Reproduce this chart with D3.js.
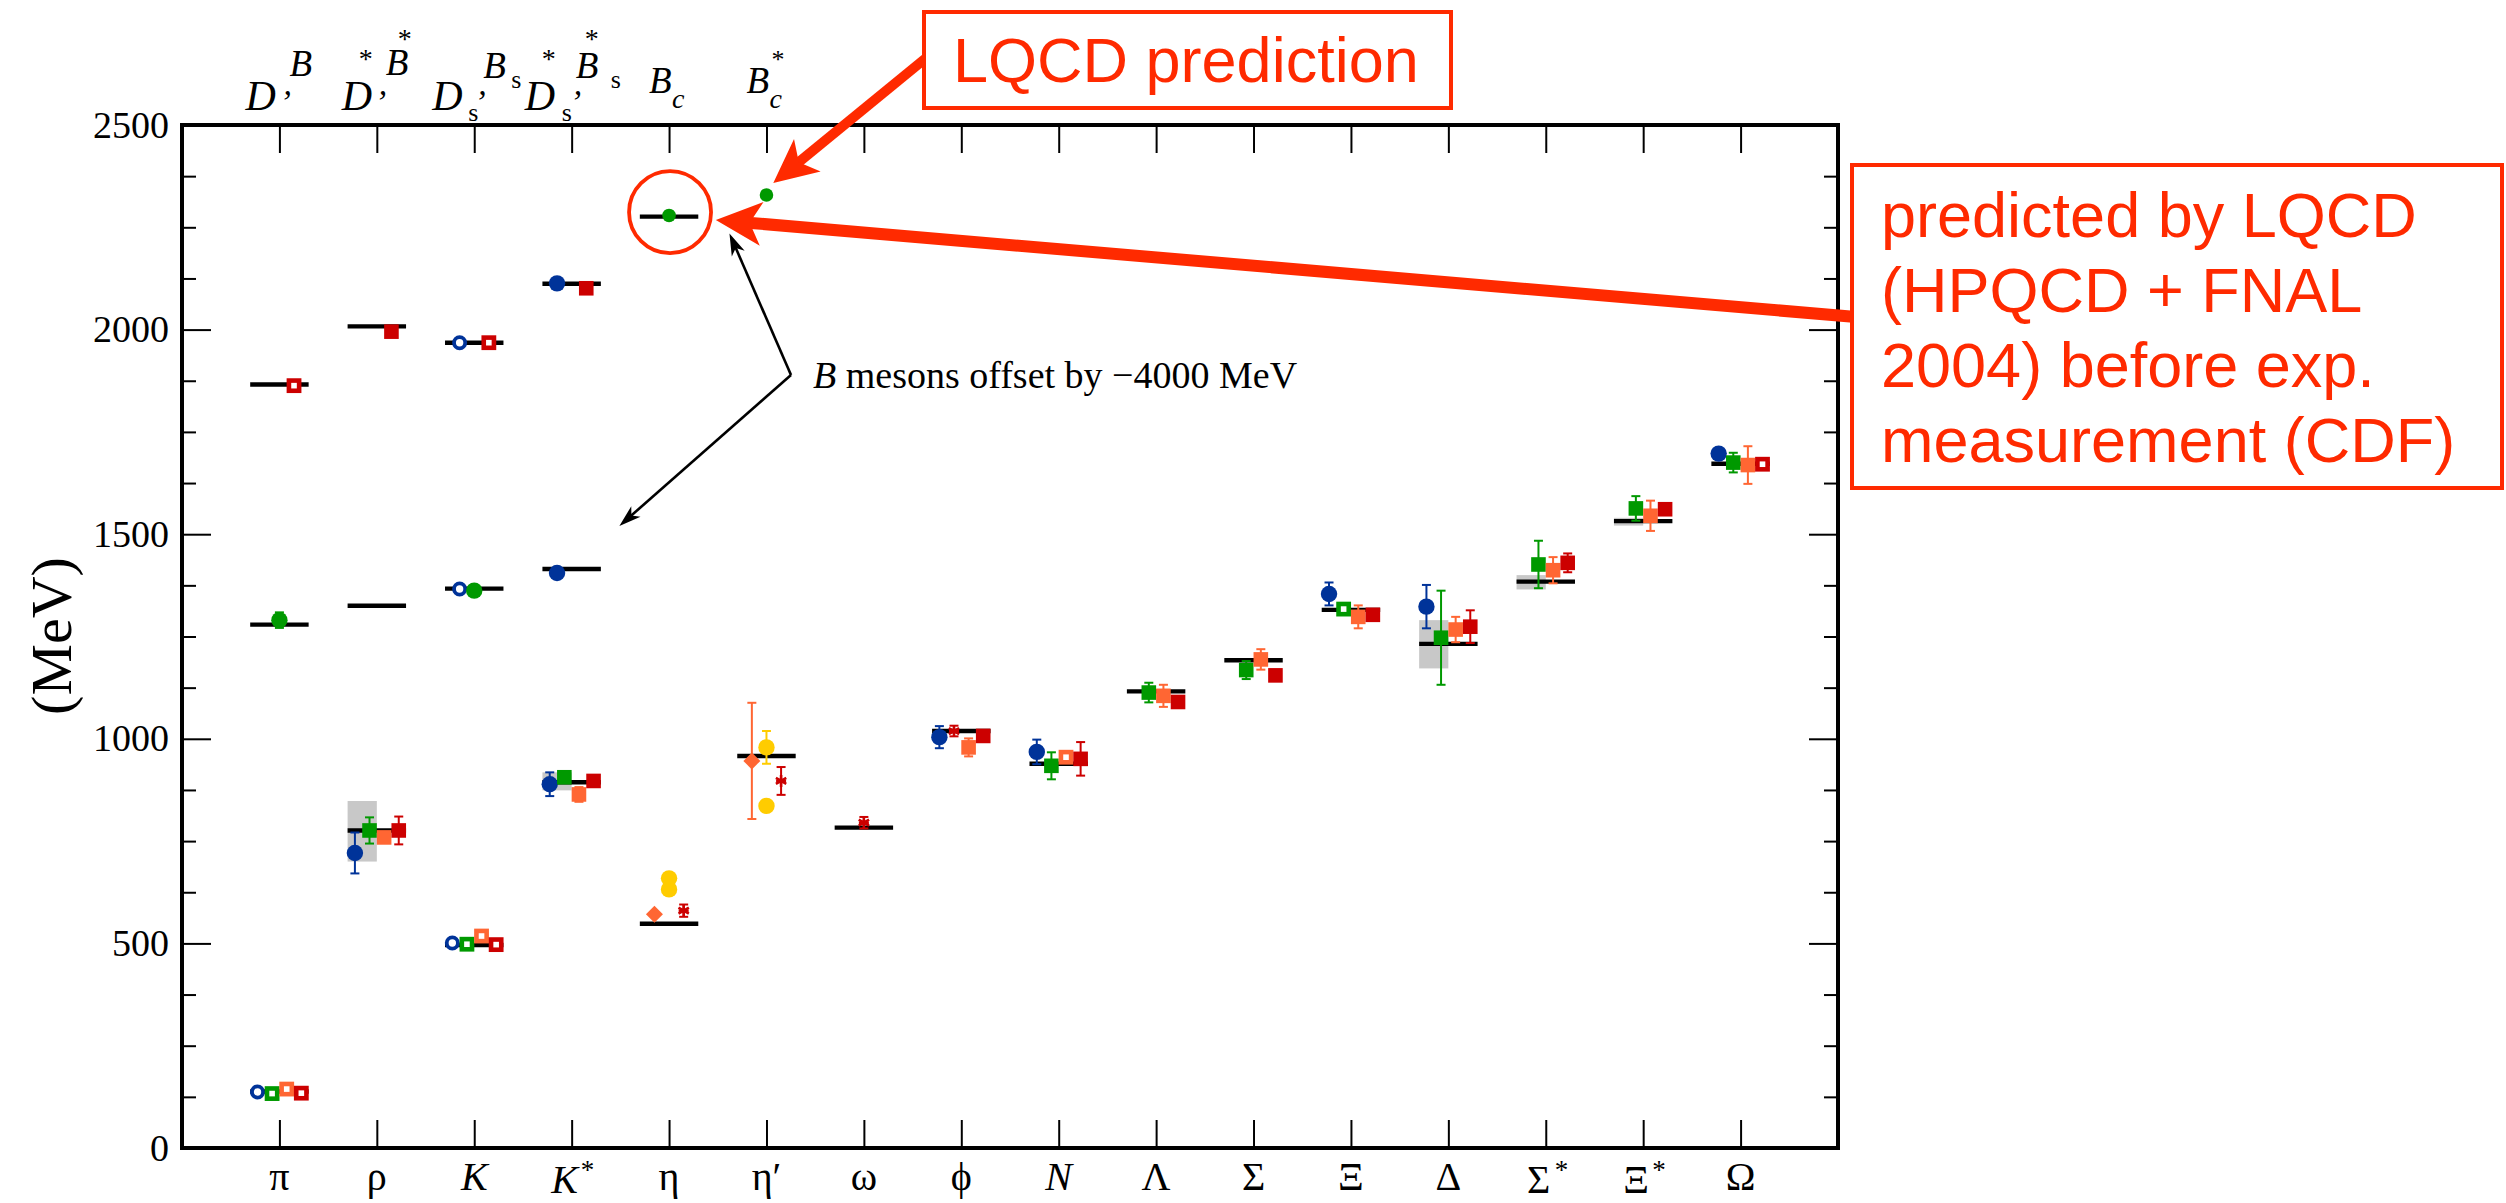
<!DOCTYPE html>
<html>
<head>
<meta charset="utf-8">
<script src="https://cdn.jsdelivr.net/npm/d3@7"></script>
<style>
  body { margin: 0; background: #fff; }
  svg { display: block; }
</style>
</head>
<body>
<div id="chart"></div>
<script>
// ---- data ----------------------------------------------------------------
var categories = ["π", "ρ", "K", "K*", "η", "η′", "ω", "ϕ", "N", "Λ", "Σ", "Ξ", "Δ", "Σ*", "Ξ*", "Ω"];
var italicLabels = ["K", "K*", "N"];
var expMass = [138, 776, 496, 894, 548, 958, 783, 1019, 939, 1116, 1192, 1315, 1232, 1384, 1532, 1672];
// experimental widths (grey bands): [category, low, high]
var widthBands = [["ρ", 700, 848], ["K*", 874, 918], ["Δ", 1172, 1290], ["Σ*", 1365, 1400], ["Ξ*", 1521, 1540]];
var yMajorTicks = [0, 500, 1000, 1500, 2000, 2500];

// light hadrons: [category, mass, error]
var blueFilled = [["ρ", 721, 50], ["K*", 889, 29], ["ϕ", 1004, 27], ["N", 968, 30], ["Ξ", 1354, 28], ["Δ", 1323, 53], ["Ω", 1697, 8]];
var blueOpen = [["π", 137, 0], ["K", 501, 0]];
var greenFilled = [["ρ", 776, 32], ["K*", 906, 0], ["N", 934, 33], ["Λ", 1113, 24], ["Σ", 1168, 22], ["Δ", 1247, 115], ["Σ*", 1426, 58], ["Ξ*", 1563, 30], ["Ω", 1675, 24]];
var greenOpen = [["π", 133, 0], ["K", 498, 0], ["Ξ", 1317, 0]];
var orangeFilled = [["ρ", 759, 10], ["K*", 864, 18], ["ϕ", 979, 22], ["Λ", 1105, 27], ["Σ", 1194, 25], ["Ξ", 1298, 28], ["Δ", 1267, 31], ["Σ*", 1412, 32], ["Ξ*", 1545, 37], ["Ω", 1669, 46]];
var orangeOpen = [["π", 144, 0], ["K", 518, 0], ["N", 955, 8]];
var redFilled = [["ρ", 776, 34], ["K*", 897, 0], ["ϕ", 1007, 0], ["N", 951, 41], ["Λ", 1090, 6], ["Σ", 1155, 5], ["Ξ", 1303, 6], ["Δ", 1274, 40], ["Σ*", 1430, 23], ["Ξ*", 1561, 0]];
var redOpen = [["π", 134, 0], ["K", 497, 0], ["Ω", 1671, 0]];
var redStars = [["η", 580, 15], ["η′", 897, 34], ["ω", 795, 14], ["ϕ", 1019, 13]];
var orangeDiamonds = [["η", 571, 0], ["η′", 946, 142]];
var yellowCircles = [["η", 659, 0], ["η", 632, 0], ["η′", 979, 40], ["η′", 836, 0]];

// heavy mesons (columns 0..5 of the top axis), B mesons shifted by -4000 MeV
var heavyLabels = ["D,B", "D*,B*", "Ds,Bs", "Ds*,Bs*", "Bc", "Bc*"];
var dExpMass = [1866, 2008, 1968, 2112, 2276];
var bExpMass = [1279, 1325, 1367, 1415];
// [column, mass, error]
var heavyBlueFilled = [[3, 2113, 0], [3, 1405, 0]];
var heavyBlueOpen = [[2, 1968, 0], [2, 1366, 0]];
var heavyRedFilled = [[1, 1995, 0], [3, 2101, 0]];
var heavyRedOpen = [[0, 1863, 0], [2, 1968, 0]];
var heavyGreen = [[0, 1290, 19], [2, 1362, 0]];
var bcGreen = [[4, 2279, 0], [5, 2329, 0]];

// ---- layout --------------------------------------------------------------
var W = 2506, H = 1203;
var plot = { left: 182, right: 1838, top: 125, bottom: 1148 };
var RED = "#ff2a00";
var col = { blue: "#003399", green: "#009900", orange: "#ff6633", red: "#cc0000", yellow: "#ffcc00" };
var serif = "'Liberation Serif', 'Times New Roman', serif";
var sans = "'Liberation Sans', Arial, Helvetica, sans-serif";

var x = d3.scaleLinear().domain([-1, 16]).range([plot.left, plot.right]);
var y = d3.scaleLinear().domain([0, 2500]).range([plot.bottom, plot.top]);
var ci = function (c) { return categories.indexOf(c); };

var svg = d3.select("#chart").append("svg")
    .attr("width", W)
    .attr("height", H)
    .attr("viewBox", [0, 0, W, H]);

// ---- axes ----------------------------------------------------------------
function styleAxis(g) {
    g.select(".domain").remove();
    g.selectAll(".tick line").attr("stroke", "#000").attr("stroke-width", 2);
}
var minorTicks = d3.range(0, 2501, 125).filter(function (v) { return v % 500 !== 0; });

svg.append("g").attr("transform", "translate(" + plot.left + ",0)")
    .call(d3.axisLeft(y).tickValues(yMajorTicks).tickFormat(d3.format("d"))
        .tickSizeInner(-29).tickSizeOuter(0).tickPadding(13))
    .call(styleAxis)
    .call(function (g) {
        g.selectAll(".tick text").attr("font-family", serif).attr("font-size", 38).attr("fill", "#000");
    });
svg.append("g").attr("transform", "translate(" + plot.left + ",0)")
    .call(d3.axisLeft(y).tickValues(minorTicks).tickSizeInner(-14).tickSizeOuter(0).tickFormat(""))
    .call(styleAxis);
svg.append("g").attr("transform", "translate(" + plot.right + ",0)")
    .call(d3.axisRight(y).tickValues(yMajorTicks).tickSizeInner(-29).tickSizeOuter(0).tickFormat(""))
    .call(styleAxis);
svg.append("g").attr("transform", "translate(" + plot.right + ",0)")
    .call(d3.axisRight(y).tickValues(minorTicks).tickSizeInner(-14).tickSizeOuter(0).tickFormat(""))
    .call(styleAxis);
svg.append("g").attr("transform", "translate(0," + plot.bottom + ")")
    .call(d3.axisBottom(x).tickValues(d3.range(categories.length)).tickSizeInner(-28).tickSizeOuter(0).tickFormat(""))
    .call(styleAxis);
svg.append("g").attr("transform", "translate(0," + plot.top + ")")
    .call(d3.axisTop(x).tickValues(d3.range(categories.length)).tickSizeInner(-28).tickSizeOuter(0).tickFormat(""))
    .call(styleAxis);

svg.append("rect")
    .attr("x", plot.left).attr("y", plot.top)
    .attr("width", plot.right - plot.left).attr("height", plot.bottom - plot.top)
    .attr("fill", "none").attr("stroke", "#000").attr("stroke-width", 4);

// y axis title
svg.append("text")
    .attr("transform", "translate(71,636) rotate(-90)")
    .attr("text-anchor", "middle")
    .attr("font-family", serif).attr("font-size", 58)
    .text("(MeV)");

// bottom category labels
var bottomG = svg.append("g").attr("font-family", serif).attr("font-size", 40);
categories.forEach(function (c, i) {
    var starred = c.slice(-1) === "*";
    var base = starred ? c.slice(0, -1) : c;
    bottomG.append("text")
        .attr("x", x(i) - (starred ? 7 : 0))
        .attr("y", starred ? 1193 : 1190)
        .attr("text-anchor", "middle")
        .attr("font-style", italicLabels.indexOf(c) >= 0 ? "italic" : "normal")
        .text(base);
    if (starred) {
        bottomG.append("text")
            .attr("x", x(i) + 9).attr("y", 1179)
            .attr("font-size", 27)
            .text("*");
    }
});

// top (heavy meson) labels, glyph by glyph: [text, dx, baseline, size, italic]
var topGlyphs = {
    "D,B": [["D", -34, 110, 42, 1], [",", 4, 95, 34, 1], ["B", 10, 76, 37, 1]],
    "D*,B*": [["D", -35, 110, 42, 1], ["*", -18, 68, 28, 0], [",", 2, 95, 34, 1], ["B", 9, 75, 37, 1], ["*", 21, 48, 28, 0]],
    "Ds,Bs": [["D", -42, 110, 42, 1], ["s", -6, 121, 26, 0], [",", 4, 95, 34, 1], ["B", 9, 78, 37, 1], ["s", 37, 88, 26, 0]],
    "Ds*,Bs*": [["D", -47, 110, 42, 1], ["*", -30, 68, 28, 0], ["s", -10, 121, 26, 0], [",", 2, 95, 34, 1], ["B", 4, 78, 37, 1], ["*", 13, 48, 28, 0], ["s", 39, 88, 26, 0]],
    "Bc": [["B", -20, 93, 37, 1], ["c", 3, 108, 28, 1]],
    "Bc*": [["B", -20, 93, 37, 1], ["*", 5, 68, 26, 0], ["c", 3, 108, 28, 1]]
};
var topG = svg.append("g").attr("font-family", serif);
heavyLabels.forEach(function (lab, i) {
    topGlyphs[lab].forEach(function (gl) {
        topG.append("text")
            .attr("x", x(i) + gl[1]).attr("y", gl[2])
            .attr("font-size", gl[3])
            .attr("font-style", gl[4] ? "italic" : "normal")
            .text(gl[0]);
    });
});

// ---- experimental values -------------------------------------------------
var halfW = 0.3;
var data = svg.append("g");
data.selectAll("rect.band").data(widthBands).join("rect")
    .attr("class", "band")
    .attr("x", function (d) { return x(ci(d[0]) - halfW); })
    .attr("width", x(halfW) - x(0))
    .attr("y", function (d) { return y(d[2]); })
    .attr("height", function (d) { return y(d[1]) - y(d[2]); })
    .attr("fill", "#c8c8c8");

var expLines = expMass.map(function (m, i) { return [i, m]; })
    .concat(dExpMass.map(function (m, i) { return [i, m]; }))
    .concat(bExpMass.map(function (m, i) { return [i, m]; }));
data.selectAll("line.exp").data(expLines).join("line")
    .attr("class", "exp")
    .attr("x1", function (d) { return x(d[0] - halfW); })
    .attr("x2", function (d) { return x(d[0] + halfW); })
    .attr("y1", function (d) { return y(d[1]); })
    .attr("y2", function (d) { return y(d[1]); })
    .attr("stroke", "#000").attr("stroke-width", 4.4);

// ---- lattice points ------------------------------------------------------
var slot = { blue: -0.225, green: -0.075, orange: 0.075, red: 0.225 };
var starSlot = { "η": 0.15, "η′": 0.15, "ω": 0, "ϕ": -0.075 };
var threeSlot = { diamond: -0.15, yellow: 0, star: 0.15 };
var heavySlot = { blue: -0.15, green: 0, red: 0.15 };

function drawSeries(points, pos, color, shape) {
    var g = data.append("g");
    points.forEach(function (p) {
        var px = x(pos(p)), py = y(p[1]);
        if (p[2] > 0) {
            var y1 = y(p[1] - p[2]), y2 = y(p[1] + p[2]);
            g.append("line").attr("x1", px).attr("x2", px).attr("y1", y1).attr("y2", y2)
                .attr("stroke", color).attr("stroke-width", 2);
            [y1, y2].forEach(function (yy) {
                g.append("line").attr("x1", px - 4.5).attr("x2", px + 4.5).attr("y1", yy).attr("y2", yy)
                    .attr("stroke", color).attr("stroke-width", 2);
            });
        }
        if (shape === "circle") {
            g.append("circle").attr("cx", px).attr("cy", py).attr("r", 8.2).attr("fill", color);
        } else if (shape === "dot") {
            g.append("circle").attr("cx", px).attr("cy", py).attr("r", 6.8).attr("fill", color);
        } else if (shape === "ocircle") {
            g.append("circle").attr("cx", px).attr("cy", py).attr("r", 5.6)
                .attr("fill", "#fff").attr("stroke", color).attr("stroke-width", 3.8);
        } else if (shape === "square") {
            g.append("rect").attr("x", px - 7.3).attr("y", py - 7.3).attr("width", 14.6).attr("height", 14.6)
                .attr("fill", color);
        } else if (shape === "osquare") {
            g.append("rect").attr("x", px - 5.1).attr("y", py - 5.1).attr("width", 10.2).attr("height", 10.2)
                .attr("fill", "#fff").attr("stroke", color).attr("stroke-width", 4.6);
        } else if (shape === "diamond") {
            g.append("path").attr("d", d3.line()([[px, py - 8.5], [px + 8.5, py], [px, py + 8.5], [px - 8.5, py]]) + "Z")
                .attr("fill", color);
        } else if (shape === "star") {
            g.append("path").attr("transform", "translate(" + px + "," + py + ")")
                .attr("d", d3.symbol(d3.symbolAsterisk, 100)())
                .attr("fill", "none").attr("stroke", color).attr("stroke-width", 2.6);
            g.append("line").attr("x1", px - 5).attr("x2", px + 5).attr("y1", py).attr("y2", py)
                .attr("stroke", color).attr("stroke-width", 2.6);
        }
    });
}
var light = function (s) { return function (p) { return ci(p[0]) + slot[s]; }; };
var heavy = function (s) { return function (p) { return p[0] + heavySlot[s]; }; };

drawSeries(blueFilled, light("blue"), col.blue, "circle");
drawSeries(blueOpen, light("blue"), col.blue, "ocircle");
drawSeries(greenFilled, light("green"), col.green, "square");
drawSeries(greenOpen, light("green"), col.green, "osquare");
drawSeries(orangeFilled, light("orange"), col.orange, "square");
drawSeries(orangeOpen, light("orange"), col.orange, "osquare");
drawSeries(redFilled, light("red"), col.red, "square");
drawSeries(redOpen, light("red"), col.red, "osquare");
drawSeries(orangeDiamonds, function (p) { return ci(p[0]) + threeSlot.diamond; }, col.orange, "diamond");
drawSeries(yellowCircles, function (p) { return ci(p[0]) + threeSlot.yellow; }, col.yellow, "circle");
drawSeries(redStars, function (p) { return ci(p[0]) + starSlot[p[0]]; }, col.red, "star");

drawSeries(heavyBlueFilled, heavy("blue"), col.blue, "circle");
drawSeries(heavyBlueOpen, heavy("blue"), col.blue, "ocircle");
drawSeries(heavyRedFilled, heavy("red"), col.red, "square");
drawSeries(heavyRedOpen, heavy("red"), col.red, "osquare");
drawSeries(heavyGreen, heavy("green"), col.green, "circle");
drawSeries(bcGreen, heavy("green"), col.green, "dot");

// ---- annotations ---------------------------------------------------------
function arrow(g, x1, y1, x2, y2, o) {
    var a = Math.atan2(y2 - y1, x2 - x1);
    var ux = Math.cos(a), uy = Math.sin(a), nx = -uy, ny = ux;
    var bx = x2 - ux * o.len, by = y2 - uy * o.len;
    var kx = x2 - ux * (o.len - o.notch), ky = y2 - uy * (o.len - o.notch);
    g.append("line").attr("x1", x1).attr("y1", y1).attr("x2", kx + ux * 2).attr("y2", ky + uy * 2)
        .attr("stroke", o.color).attr("stroke-width", o.width);
    g.append("path")
        .attr("d", d3.line()([[x2, y2], [bx + nx * o.hw, by + ny * o.hw], [kx, ky], [bx - nx * o.hw, by - ny * o.hw]]) + "Z")
        .attr("fill", o.color);
}
var notes = svg.append("g");

// Bc highlight
notes.append("circle").attr("cx", x(4) + 1).attr("cy", y(2287)).attr("r", 41)
    .attr("fill", "none").attr("stroke", RED).attr("stroke-width", 3.8);

// black "B mesons offset" arrows
var vx = 791, vy = 375;
var blackArrow = { color: "#000", width: 2.6, len: 22, hw: 7, notch: 6 };
arrow(notes, vx, vy, x(4.62), y(2235), blackArrow);
arrow(notes, vx, vy, x(3.49), y(1520), blackArrow);
notes.append("text")
    .attr("x", 813).attr("y", 388)
    .attr("font-family", serif).attr("font-size", 38)
    .call(function (t) {
        t.append("tspan").attr("font-style", "italic").text("B");
        t.append("tspan").text(" mesons offset by \u22124000 MeV");
    });

// red arrows
var redArrow = { color: RED, width: 12, len: 46, hw: 22, notch: 12 };
arrow(notes, 1856, 317, x(4.48), y(2268), redArrow);
arrow(notes, 926, 58, x(5.07), y(2358), { color: RED, width: 10, len: 44, hw: 21, notch: 11 });

// "LQCD prediction" box
notes.append("rect").attr("x", 924).attr("y", 12).attr("width", 527).attr("height", 96)
    .attr("fill", "#fff").attr("stroke", RED).attr("stroke-width", 4);
notes.append("text").attr("x", 953).attr("y", 82)
    .attr("font-family", sans).attr("font-size", 63).attr("fill", RED)
    .text("LQCD prediction");

// explanation box
var noteLines = ["predicted by LQCD", "(HPQCD + FNAL", "2004) before exp.", "measurement (CDF)"];
notes.append("rect").attr("x", 1852).attr("y", 165).attr("width", 650).attr("height", 323)
    .attr("fill", "#fff").attr("stroke", RED).attr("stroke-width", 4);
notes.append("g").attr("font-family", sans).attr("font-size", 63).attr("fill", RED)
    .selectAll("text").data(noteLines).join("text")
    .attr("x", 1881)
    .attr("y", function (d, i) { return 237 + i * 75; })
    .text(function (d) { return d; });
</script>
</body>
</html>
